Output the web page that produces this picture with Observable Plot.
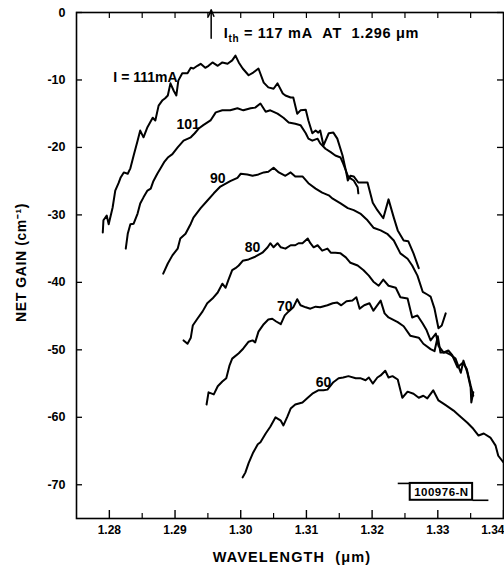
<!DOCTYPE html>
<html>
<head>
<meta charset="utf-8">
<script src="https://cdn.jsdelivr.net/npm/d3@7"></script>
<script src="https://cdn.jsdelivr.net/npm/@observablehq/plot@0.6"></script>
<style>
  html, body { margin: 0; padding: 0; background: #fff; }
  #chart svg { display: block; }
</style>
</head>
<body>
<div id="chart"></div>
<script>
// ---- data: [wavelength (µm), net gain (cm^-1)] ----
const gain111 = [[1.2790,-32.6],[1.2791,-30.8],[1.2796,-30.1],[1.2799,-31.4],[1.2805,-28.9],[1.2809,-26.4],[1.2814,-25.3],[1.2817,-24.5],[1.2822,-23.7],[1.2828,-23.9],[1.2832,-23.1],[1.2837,-21.2],[1.2843,-19.0],[1.2847,-17.5],[1.2852,-18.5],[1.2858,-17.0],[1.2866,-15.6],[1.2870,-16.0],[1.2875,-13.8],[1.2881,-13.0],[1.2885,-12.7],[1.2889,-12.3],[1.2893,-10.5],[1.2898,-11.6],[1.2902,-12.3],[1.2905,-10.1],[1.2911,-9.0],[1.2919,-9.0],[1.2924,-8.2],[1.2928,-8.3],[1.2934,-7.9],[1.2939,-7.6],[1.2946,-8.2],[1.2951,-7.9],[1.2957,-7.4],[1.2965,-7.9],[1.2972,-7.4],[1.2980,-7.6],[1.2987,-7.1],[1.2992,-6.4],[1.2997,-7.4],[1.3003,-8.3],[1.3012,-9.3],[1.3019,-8.9],[1.3027,-8.3],[1.3035,-10.4],[1.3042,-11.1],[1.3050,-11.3],[1.3056,-10.5],[1.3064,-12.0],[1.3068,-12.3],[1.3076,-12.6],[1.3080,-12.6],[1.3086,-15.0],[1.3091,-14.5],[1.3099,-14.4],[1.3103,-16.0],[1.3109,-17.9],[1.3114,-17.5],[1.3118,-17.8],[1.3121,-17.5],[1.3126,-19.7],[1.3134,-17.9],[1.3141,-17.8],[1.3147,-18.7],[1.3155,-21.2],[1.3160,-23.4],[1.3163,-24.9],[1.3167,-24.2],[1.3172,-24.3],[1.3179,-25.2],[1.3193,-25.2],[1.3201,-28.2],[1.3208,-29.3],[1.3217,-30.5],[1.3225,-27.7],[1.3233,-30.4],[1.3239,-32.3],[1.3248,-33.8],[1.3255,-33.9],[1.3263,-35.7],[1.3271,-37.9]];

const gain101 = [[1.2825,-35.0],[1.2828,-32.8],[1.2832,-31.4],[1.2837,-31.3],[1.2843,-29.8],[1.2847,-28.3],[1.2852,-27.4],[1.2858,-26.4],[1.2863,-26.1],[1.2867,-25.0],[1.2873,-23.9],[1.2878,-23.1],[1.2884,-22.1],[1.2889,-21.5],[1.2896,-21.0],[1.2904,-20.0],[1.2913,-19.0],[1.2924,-18.5],[1.2930,-17.9],[1.2936,-17.2],[1.2943,-16.7],[1.2954,-16.0],[1.2962,-14.8],[1.2972,-14.5],[1.2984,-14.5],[1.2995,-14.2],[1.3004,-14.5],[1.3015,-14.2],[1.3022,-14.1],[1.3030,-13.5],[1.3038,-14.7],[1.3045,-14.5],[1.3056,-15.0],[1.3065,-15.6],[1.3073,-16.3],[1.3083,-16.5],[1.3091,-16.7],[1.3099,-17.9],[1.3103,-18.7],[1.3109,-19.0],[1.3117,-18.7],[1.3121,-19.4],[1.3129,-20.2],[1.3137,-20.7],[1.3144,-21.2],[1.3152,-21.5],[1.3156,-22.4],[1.3163,-24.2],[1.3167,-24.6],[1.3172,-24.9],[1.3178,-25.9],[1.3179,-26.8]];

const gain90 = [[1.2882,-38.7],[1.2889,-37.2],[1.2896,-36.0],[1.2904,-35.0],[1.2908,-33.5],[1.2916,-32.8],[1.2924,-31.3],[1.2928,-30.4],[1.2939,-29.0],[1.2949,-27.9],[1.2959,-26.8],[1.2969,-25.8],[1.2984,-25.0],[1.2995,-24.5],[1.3000,-23.9],[1.3010,-24.0],[1.3018,-24.2],[1.3027,-24.0],[1.3035,-23.7],[1.3042,-23.6],[1.3050,-23.0],[1.3058,-23.7],[1.3068,-24.2],[1.3076,-23.7],[1.3083,-24.3],[1.3094,-24.3],[1.3103,-25.3],[1.3114,-26.1],[1.3124,-26.7],[1.3134,-27.1],[1.3140,-27.6],[1.3152,-28.3],[1.3163,-29.0],[1.3172,-29.3],[1.3182,-29.8],[1.3193,-30.8],[1.3202,-31.9],[1.3213,-32.3],[1.3223,-32.8],[1.3233,-33.8],[1.3243,-35.7],[1.3254,-36.5],[1.3261,-37.5],[1.3269,-39.0],[1.3277,-41.4],[1.3284,-41.8],[1.3289,-42.1],[1.3295,-43.9],[1.3301,-46.8],[1.3306,-46.4],[1.3312,-44.6]];

const gain80 = [[1.2913,-48.6],[1.2919,-49.1],[1.2924,-48.2],[1.2927,-46.4],[1.2934,-45.4],[1.2942,-44.3],[1.2949,-43.1],[1.2957,-42.4],[1.2965,-41.5],[1.2972,-40.2],[1.2977,-40.8],[1.2981,-39.7],[1.2987,-38.2],[1.2992,-37.9],[1.2997,-37.5],[1.3003,-36.8],[1.3012,-36.6],[1.3022,-36.2],[1.3033,-35.6],[1.3041,-34.8],[1.3045,-34.2],[1.3050,-34.8],[1.3056,-34.2],[1.3061,-34.8],[1.3068,-35.0],[1.3076,-34.5],[1.3083,-34.5],[1.3088,-34.2],[1.3094,-34.2],[1.3102,-33.5],[1.3106,-34.2],[1.3111,-34.8],[1.3117,-34.5],[1.3124,-35.3],[1.3132,-35.0],[1.3137,-35.6],[1.3144,-35.6],[1.3152,-35.7],[1.3160,-36.3],[1.3167,-37.1],[1.3178,-37.5],[1.3187,-38.2],[1.3195,-39.0],[1.3202,-39.9],[1.3210,-40.5],[1.3217,-39.6],[1.3225,-40.5],[1.3236,-40.8],[1.3243,-42.2],[1.3254,-42.4],[1.3261,-45.2],[1.3269,-44.9],[1.3277,-46.1],[1.3283,-47.1],[1.3289,-48.6],[1.3297,-47.6],[1.3301,-49.4],[1.3309,-50.4],[1.3316,-50.1],[1.3322,-50.8],[1.3330,-52.6],[1.3338,-51.9],[1.3344,-52.8],[1.3350,-55.3],[1.3354,-56.8]];

const gain70 = [[1.2948,-58.1],[1.2951,-56.3],[1.2959,-56.6],[1.2965,-55.4],[1.2972,-54.7],[1.2978,-54.2],[1.2983,-52.3],[1.2987,-51.3],[1.2997,-50.5],[1.3004,-49.8],[1.3012,-48.8],[1.3018,-48.6],[1.3022,-48.9],[1.3027,-47.3],[1.3035,-46.2],[1.3042,-45.5],[1.3048,-45.4],[1.3054,-45.8],[1.3061,-46.2],[1.3067,-44.9],[1.3073,-44.3],[1.3080,-43.7],[1.3086,-42.5],[1.3091,-43.4],[1.3099,-43.7],[1.3106,-43.9],[1.3114,-43.6],[1.3121,-43.7],[1.3132,-43.4],[1.3140,-43.1],[1.3147,-43.0],[1.3153,-43.4],[1.3161,-42.8],[1.3170,-42.7],[1.3176,-42.2],[1.3181,-43.9],[1.3188,-43.4],[1.3196,-43.1],[1.3202,-44.2],[1.3213,-42.7],[1.3219,-44.6],[1.3225,-45.2],[1.3239,-45.9],[1.3248,-46.5],[1.3258,-47.9],[1.3271,-48.2],[1.3278,-49.1],[1.3289,-49.9],[1.3295,-50.2],[1.3300,-48.0],[1.3304,-50.4],[1.3313,-50.4],[1.3319,-50.7],[1.3327,-51.3],[1.3335,-53.4],[1.3339,-51.6],[1.3345,-53.4],[1.3350,-55.6],[1.3351,-57.8],[1.3354,-56.3]];

const gain60 = [[1.3003,-68.9],[1.3007,-68.2],[1.3012,-66.8],[1.3019,-65.2],[1.3026,-64.0],[1.3030,-63.7],[1.3038,-62.4],[1.3045,-61.4],[1.3053,-60.0],[1.3061,-60.5],[1.3065,-61.2],[1.3071,-59.9],[1.3076,-58.7],[1.3083,-58.1],[1.3094,-57.8],[1.3102,-57.1],[1.3109,-56.5],[1.3118,-56.0],[1.3126,-56.0],[1.3132,-55.9],[1.3141,-54.8],[1.3149,-54.2],[1.3156,-54.1],[1.3164,-53.9],[1.3175,-54.2],[1.3182,-54.2],[1.3190,-54.5],[1.3195,-54.1],[1.3201,-55.0],[1.3208,-54.1],[1.3213,-53.8],[1.3220,-53.1],[1.3225,-54.1],[1.3231,-53.9],[1.3239,-54.4],[1.3246,-57.1],[1.3254,-56.2],[1.3263,-56.5],[1.3271,-57.1],[1.3278,-56.8],[1.3284,-57.2],[1.3293,-56.0],[1.3301,-57.5],[1.3312,-58.2],[1.3324,-59.0],[1.3332,-59.7],[1.3345,-60.8],[1.3354,-61.7],[1.3362,-62.7],[1.3370,-62.4],[1.3380,-63.0],[1.3388,-64.2],[1.3392,-65.7],[1.3400,-66.7]];

const currents = [111, 101, 90, 80, 70, 60];
const series = [gain111, gain101, gain90, gain80, gain70, gain60];

// tick values and labels
const xMajorTicks = [1.28, 1.29, 1.30, 1.31, 1.32, 1.33, 1.34];
const xMinorTicks = [1.285, 1.295, 1.305, 1.315, 1.325, 1.335];
const xTopTicks = [1.28, 1.285, 1.29, 1.295, 1.30, 1.305, 1.31, 1.315, 1.32, 1.325, 1.33, 1.335];
const yTicks = [0, -10, -20, -30, -40, -50, -60, -70];
const xTitle = "WAVELENGTH\u00a0\u00a0(\u03bcm)";
const yTitle = "NET GAIN (cm\u207b\u00b9)";

// annotations (data coordinates)
const curveLabels = [
  {text: "I = 111mA", x: 1.2855, y: -9.6},
  {text: "101", x: 1.2920, y: -16.6},
  {text: "90", x: 1.2965, y: -24.6},
  {text: "80", x: 1.3018, y: -34.8},
  {text: "70", x: 1.3067, y: -43.6},
  {text: "60", x: 1.3126, y: -54.8}
];
const thresholdNote = [{text: "Ith = 117 mA\u00a0\u00a0AT\u00a0\u00a01.296 \u03bcm", x: 1.2974, y: -3.1}];
const thresholdArrow = [{x: 1.2955, y1: -3.8, y2: 0.4}];
const stamp = [{text: "100976-N", x1: 1.3258, x2: 1.3353, y1: -72.3, y2: -69.8}];
const stampLines = [
  {x1: 1.3239, x2: 1.3258, y: -69.8},
  {x1: 1.3353, x2: 1.3377, y: -72.3}
];

const rows = series.flatMap((pts, i) => pts.map(([w, g]) => ({current: currents[i], wavelength: w, gain: g})));

const W = 504, H = 571, mL = 76, mR = 1, mT = 12, mB = 53;
const innerW = W - mL - mR, innerH = H - mT - mB;
const font = "'Liberation Sans', Arial, Helvetica, sans-serif";
const lastTick = xMajorTicks[xMajorTicks.length - 1];

const chart = Plot.plot({
  width: W, height: H,
  marginLeft: mL, marginRight: mR, marginTop: mT, marginBottom: mB,
  style: {fontFamily: font, background: "#fff", color: "#000"},
  x: {domain: [1.275, 1.34]},
  y: {domain: [-75, 0]},
  marks: [
    Plot.frame({stroke: "#000", strokeWidth: 1.6}),
    Plot.tickX(xMajorTicks, {x: d => d, insetTop: innerH - 8, stroke: "#000", strokeWidth: 1.4}),
    Plot.tickX(xMinorTicks, {x: d => d, insetTop: innerH - 5, stroke: "#000", strokeWidth: 1.2}),
    Plot.tickX(xTopTicks, {x: d => d, insetBottom: innerH - 6, stroke: "#000", strokeWidth: 1.2}),
    Plot.tickY(yTicks, {y: d => d, insetRight: innerW - 6, stroke: "#000", strokeWidth: 1.3}),
    Plot.tickY(yTicks, {y: d => d, insetLeft: innerW - 6, stroke: "#000", strokeWidth: 1.3}),
    Plot.axisX({ticks: xMajorTicks.slice(0, -1), anchor: "bottom", tickSize: 0, tickPadding: 7,
      tickFormat: d3.format(".2f"), fontSize: 12, fontWeight: "bold", label: null}),
    Plot.axisX({ticks: [lastTick], anchor: "bottom", tickSize: 0, tickPadding: 7, textAnchor: "end", dx: 1,
      tickFormat: d3.format(".2f"), fontSize: 12, fontWeight: "bold", label: null}),
    Plot.axisY({ticks: yTicks, anchor: "left", tickSize: 0, tickPadding: 11,
      tickFormat: d => d === 0 ? "0" : "-" + Math.abs(d), fontSize: 12.5, fontWeight: "bold", label: null}),
    Plot.text([xTitle], {text: d => d, frameAnchor: "bottom", dx: 2, dy: 39, lineAnchor: "middle", textAnchor: "middle",
      fontSize: 14.5, fontWeight: "bold"}),
    Plot.text([yTitle], {text: d => d, frameAnchor: "left", dx: -55, dy: -3, rotate: -90, lineAnchor: "middle",
      textAnchor: "middle", fontSize: 14, fontWeight: "bold"}),
    Plot.line(rows, {x: "wavelength", y: "gain", z: "current", stroke: "#000", strokeWidth: 2,
      strokeLinejoin: "round", strokeLinecap: "round", curve: "linear"}),
    Plot.text(curveLabels, {x: "x", y: "y", text: "text", fontSize: 14, fontWeight: "bold", lineAnchor: "middle"}),
    Plot.text(thresholdNote, {x: "x", y: "y", text: "text", textAnchor: "start", lineAnchor: "middle",
      fontSize: 14.5, fontWeight: "bold"}),
    Plot.arrow(thresholdArrow, {x: "x", y1: "y1", y2: "y2", stroke: "#000", strokeWidth: 1.5, headLength: 7, headAngle: 45}),
    Plot.link(stampLines, {x1: "x1", x2: "x2", y1: "y", y2: "y", stroke: "#000", strokeWidth: 1.6}),
    Plot.rect(stamp, {x1: "x1", x2: "x2", y1: "y1", y2: "y2", fill: "#fff", stroke: "#000", strokeWidth: 2}),
    Plot.text(stamp, {x: d => (d.x1 + d.x2) / 2, y: d => (d.y1 + d.y2) / 2, text: "text", lineAnchor: "middle",
      fontSize: 11.5, fontWeight: "bold"})
  ]
});

// letter spacing and the subscript "th" (Plot's text mark has no such options)
const ns = "http://www.w3.org/2000/svg";
const spacing = new Map([[xTitle, "1.1px"], [yTitle, "0.6px"], [stamp[0].text, "0.5px"]]);
d3.select(chart).selectAll("text").each(function() {
  const t = this.textContent;
  if (spacing.has(t)) this.style.letterSpacing = spacing.get(t);
  if (t.startsWith("Ith")) {
    const rest = t.slice(3);
    this.textContent = "";
    this.style.letterSpacing = "0.7px";
    const a = document.createElementNS(ns, "tspan"); a.textContent = "I";
    const b = document.createElementNS(ns, "tspan"); b.textContent = "th";
    b.setAttribute("font-size", "10"); b.setAttribute("dy", "4");
    const c = document.createElementNS(ns, "tspan"); c.textContent = rest; c.setAttribute("dy", "-4");
    this.append(a, b, c);
  }
});

document.getElementById("chart").append(chart);
</script>
</body>
</html>
